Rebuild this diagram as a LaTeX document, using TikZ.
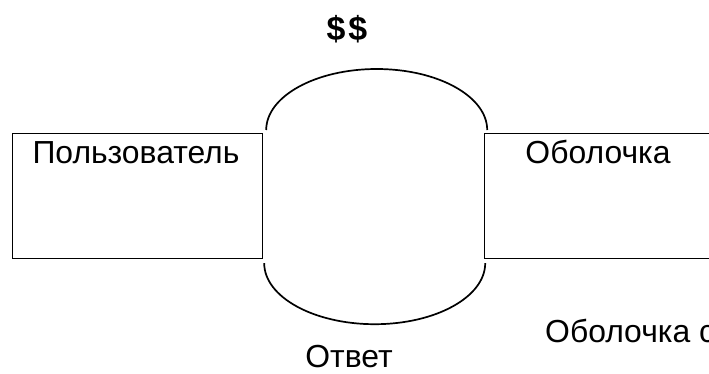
\documentclass[tikz,border=0pt]{standalone}
\usepackage{fontspec}
\setmainfont{Liberation Sans}
\usetikzlibrary{positioning}

\tikzset{
  block/.style={draw, line width=1.2bp, minimum width=250bp, minimum height=125bp, inner sep=0pt},
  pipe/.style={line width=1.7bp},
  lbl/.style={font=\fontsize{32}{38}\selectfont, inner sep=0pt, anchor=base},
}

\begin{document}
\begin{tikzpicture}[x=1bp, y=-1bp]
	\useasboundingbox (0,0) rectangle (709,373);
	\clip (0,0) rectangle (709,373);
	
	% two boxes, the right one runs off the page
	\node [block, anchor=north west] (user) at (12,133) {};
	\node [block, anchor=north west, minimum width=240bp] (shell) at (484,133) {};
	
	\node [lbl] (user-lbl) at (136,163) {Пользователь};
	\node [lbl] (shell-lbl) at (598,163) {Оболочка};
	
	% channel between the boxes (y runs downwards here)
	\draw [pipe] ([shift={(3,-3)}]user.north east) arc[start angle=180, end angle=360, x radius=110.5, y radius=61];
	\draw [pipe] ([shift={(1,4)}]user.south east) arc[start angle=180, end angle=0, x radius=110.5, y radius=61];
	
	\node [lbl, font=\fontsize{34}{40}\selectfont\bfseries] (money) at (347,40) {\$\kern3bp\$};
	\node [lbl] (answer) at (349,367) {Ответ};
	\node [lbl, anchor=base west] (shell-out) at (545,342) {Оболочка с};
\end{tikzpicture}
\end{document}
